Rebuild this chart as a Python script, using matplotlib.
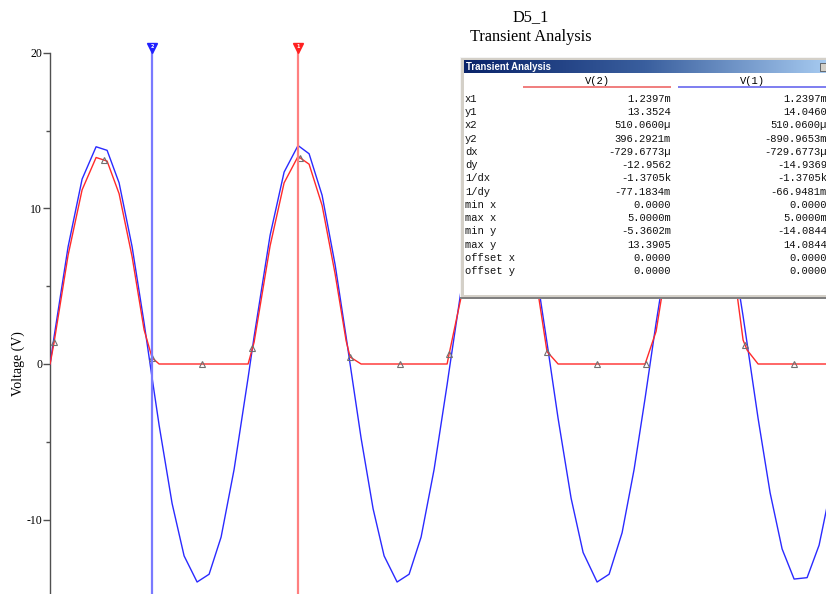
import numpy as np
import matplotlib
matplotlib.use("Agg")
import matplotlib.pyplot as plt
from matplotlib.patches import Rectangle
from matplotlib.colors import LinearSegmentedColormap

plt.rcParams['font.family'] = ['Liberation Serif', 'DejaVu Serif']

# ---------------- data (time in ms, volts) ----------------
time_ms = [0.000, 0.020, 0.090, 0.160, 0.230, 0.285, 0.345, 0.410, 0.470, 0.510, 0.545, 0.610, 0.670, 0.735, 0.795, 0.855, 0.920, 0.990,
           1.020, 1.100, 1.170, 1.2397, 1.295, 1.360, 1.425, 1.480, 1.500, 1.555, 1.615, 1.670, 1.735, 1.795, 1.855, 1.920, 1.985,
           1.995, 2.060, 2.125, 2.190, 2.250, 2.310, 2.370, 2.430, 2.4845, 2.540, 2.605, 2.665, 2.735, 2.795, 2.860, 2.920, 2.975,
           3.030, 3.095, 3.160, 3.225, 3.285, 3.345, 3.410, 3.465, 3.485, 3.540, 3.600, 3.660, 3.720, 3.785, 3.845, 3.905, 3.965]

v1 = [0.00, 1.76, 7.54, 11.89, 13.97, 13.74, 11.65, 7.54, 2.64, -0.89, -3.93, -8.97, -12.34, -14.02, -13.52, -11.13, -6.78, -0.88,
      1.76, 8.28, 12.34, 14.05, 13.52, 10.85, 6.39, 1.76, 0.00, -4.77, -9.31, -12.34, -14.02, -13.52, -11.13, -6.78, -1.33,
      -0.44, 5.18, 9.96, 13.09, 14.08, 13.09, 10.26, 6.00, 1.37, -3.50, -8.63, -12.12, -14.02, -13.52, -10.85, -6.78, -2.20,
      2.64, 7.91, 11.89, 13.91, 13.74, 11.65, 7.54, 3.07, 1.33, -3.50, -8.28, -11.89, -13.83, -13.74, -11.65, -7.91, -3.07]

v2 = [0.00, 1.40, 7.00, 11.20, 13.28, 13.05, 10.95, 6.90, 2.20, 0.40, 0.00, 0.00, 0.00, 0.00, 0.00, 0.00, 0.00, 0.00,
      1.40, 7.60, 11.65, 13.35, 12.85, 10.20, 5.80, 1.50, 0.45, 0.00, 0.00, 0.00, 0.00, 0.00, 0.00, 0.00, 0.00,
      0.64, 4.60, 9.30, 12.40, 13.39, 12.40, 9.60, 5.40, 0.80, 0.00, 0.00, 0.00, 0.00, 0.00, 0.00, 0.00, 0.00,
      2.10, 7.30, 11.20, 13.22, 13.05, 10.95, 6.90, 1.54, 0.90, 0.00, 0.00, 0.00, 0.00, 0.00, 0.00, 0.00, 0.00]

marker_t = [0.0195, 0.2695, 0.510, 0.760, 1.010, 1.250, 1.500, 1.750, 1.995, 2.245, 2.4845, 2.735, 2.980, 3.230, 3.475, 3.720]
marker_v = [1.40, 13.10, 0.40, 0.00, 1.00, 13.25, 0.45, 0.00, 0.64, 13.39, 0.80, 0.00, 0.00, 13.22, 1.22, 0.00]

cursor1_t = 1.2397   # red cursor (x1)
cursor2_t = 0.51006  # blue cursor (x2)

ytick_major = [-10, 0, 10, 20]
ytick_minor = [-5, 5, 15]

table_rows = ['x1', 'y1', 'x2', 'y2', 'dx', 'dy', '1/dx', '1/dy', 'min x', 'max x',
              'min y', 'max y', 'offset x', 'offset y']
table_v2 = ['1.2397m', '13.3524', '510.0600µ', '396.2921m', '-729.6773µ', '-12.9562', '-1.3705k',
            '-77.1834m', '0.0000', '5.0000m', '-5.3602m', '13.3905', '0.0000', '0.0000']
table_v1 = ['1.2397m', '14.0460', '510.0600µ', '-890.9653m', '-729.6773µ', '-14.9369', '-1.3705k',
            '-66.9481m', '0.0000', '5.0000m', '-14.0844', '14.0844', '0.0000', '0.0000']

# ---------------- figure ----------------
W, H = 826, 594
fig = plt.figure(figsize=(W / 100, H / 100), dpi=100)
fig.patch.set_facecolor('white')

x0_px, top_px = 50.1, 44
ax = fig.add_axes([x0_px / W, 0, (W - x0_px) / W, (H - top_px) / H])
ax.set_xlim(0, (W - x0_px) * 0.005)
ymin = -(594 - 364) / 15.55
ymax = 20 + (53 - top_px) / 15.55
ax.set_ylim(ymin, ymax)
ax.set_facecolor('white')

for s in ['top', 'right', 'bottom']:
    ax.spines[s].set_visible(False)
ax.spines['left'].set_bounds(ymin, 20)
ax.spines['left'].set_color('#505050')
ax.spines['left'].set_linewidth(1.0)
ax.set_xticks([])
ax.set_yticks(ytick_major)
ax.set_yticks(ytick_minor, minor=True)
ax.set_yticklabels([str(v) for v in ytick_major])
ax.tick_params(axis='y', which='major', direction='out', length=5, width=1,
               color='#505050', labelsize=8.5, pad=0.8)
ax.tick_params(axis='y', which='minor', direction='out', length=3, width=1, color='#505050')

ax.plot(time_ms, v1, color='#2a2aff', lw=1.0, zorder=3)
ax.plot(time_ms, v2, color='#ff2a2a', lw=1.0, zorder=4)
ax.plot(marker_t, marker_v, ls='none', marker='^', ms=4.5, mfc='none',
        mec='#707070', mew=0.8, zorder=5)

# cursors
ytri = (364 - 48) / 15.55
ax.plot([cursor2_t, cursor2_t], [ymin, ytri], color='#7a7aff', lw=1.6, zorder=6, clip_on=False)
ax.plot([cursor1_t, cursor1_t], [ymin, ytri], color='#ff8080', lw=1.6, zorder=6, clip_on=False)
ax.plot([cursor2_t], [ytri], marker='v', ms=7.5, color='#2020ff', zorder=7, clip_on=False)
ax.plot([cursor1_t], [ytri], marker='v', ms=7.5, color='#ff2020', zorder=7, clip_on=False)
ax.text(cursor2_t, ytri + 0.12, '2', color='white', fontsize=3.5, ha='center', va='center',
        zorder=8, family='DejaVu Sans', fontweight='bold')
ax.text(cursor1_t, ytri + 0.12, '1', color='white', fontsize=3.5, ha='center', va='center',
        zorder=8, family='DejaVu Sans', fontweight='bold')

# titles / labels
fig.text(531 / W, 1 - 17 / H, 'D5_1', ha='center', va='center', fontsize=11.8)
fig.text(531 / W, 1 - 37 / H, 'Transient Analysis', ha='center', va='center', fontsize=11.8)
fig.text(18 / W, 1 - 364 / H, 'Voltage (V)', ha='center', va='center', rotation=90, fontsize=10)

# ---------------- cursor readout panel ----------------
px0, py0, px1, py1 = 460, 57, 826, 299
pax = fig.add_axes([px0 / W, 1 - py1 / H, (px1 - px0) / W, (py1 - py0) / H])
pax.set_xlim(px0, px1)
pax.set_ylim(py1, py0)
pax.axis('off')
pax.add_patch(Rectangle((460, 57), 366, 242, facecolor='#d4d0c8', edgecolor='none'))
pax.add_patch(Rectangle((460, 57), 366, 1.2, facecolor='#f4f4f4', edgecolor='none'))
pax.add_patch(Rectangle((460, 57), 1.2, 242, facecolor='#f4f4f4', edgecolor='none'))
pax.add_patch(Rectangle((460, 296.5), 366, 2.5, facecolor='#808080', edgecolor='none'))
pax.add_patch(Rectangle((463.5, 73), 363, 222, facecolor='white', edgecolor='none'))
grad = np.linspace(0, 1, 256).reshape(1, -1)
cmap = LinearSegmentedColormap.from_list('tb', ['#0a246a', '#3a5f9e', '#a6caf0'])
pax.imshow(grad, cmap=cmap, aspect='auto', extent=(463.5, 826, 73, 60.5), zorder=2)
pax.add_patch(Rectangle((820, 62.5), 8, 8.5, facecolor='#d4d0c8', edgecolor='#404040', lw=0.5, zorder=3))
pax.text(466, 67, 'Transient Analysis', color='white', fontsize=6.9, fontweight='bold',
         ha='left', va='center', family='Liberation Sans', zorder=4)

mono = 'Liberation Mono'
fs = 7.6
pax.text(597, 80.5, 'V(2)', fontsize=fs, family=mono, ha='center', va='center', zorder=4)
pax.text(752, 80.5, 'V(1)', fontsize=fs, family=mono, ha='center', va='center', zorder=4)
pax.add_patch(Rectangle((523, 86), 148, 2, facecolor='#f08080', edgecolor='none', zorder=4))
pax.add_patch(Rectangle((678, 86), 150, 2, facecolor='#8080f0', edgecolor='none', zorder=4))
for i, (lab, a, b) in enumerate(zip(table_rows, table_v2, table_v1)):
    yy = 99 + i * 13.23
    pax.text(465, yy, lab, fontsize=fs, family=mono, ha='left', va='center', zorder=4, color='#111111')
    pax.text(671, yy, a, fontsize=fs, family=mono, ha='right', va='center', zorder=4, color='#111111')
    pax.text(827, yy, b, fontsize=fs, family=mono, ha='right', va='center', zorder=4, color='#111111')

fig.savefig('out.png', dpi=100, facecolor='white')
